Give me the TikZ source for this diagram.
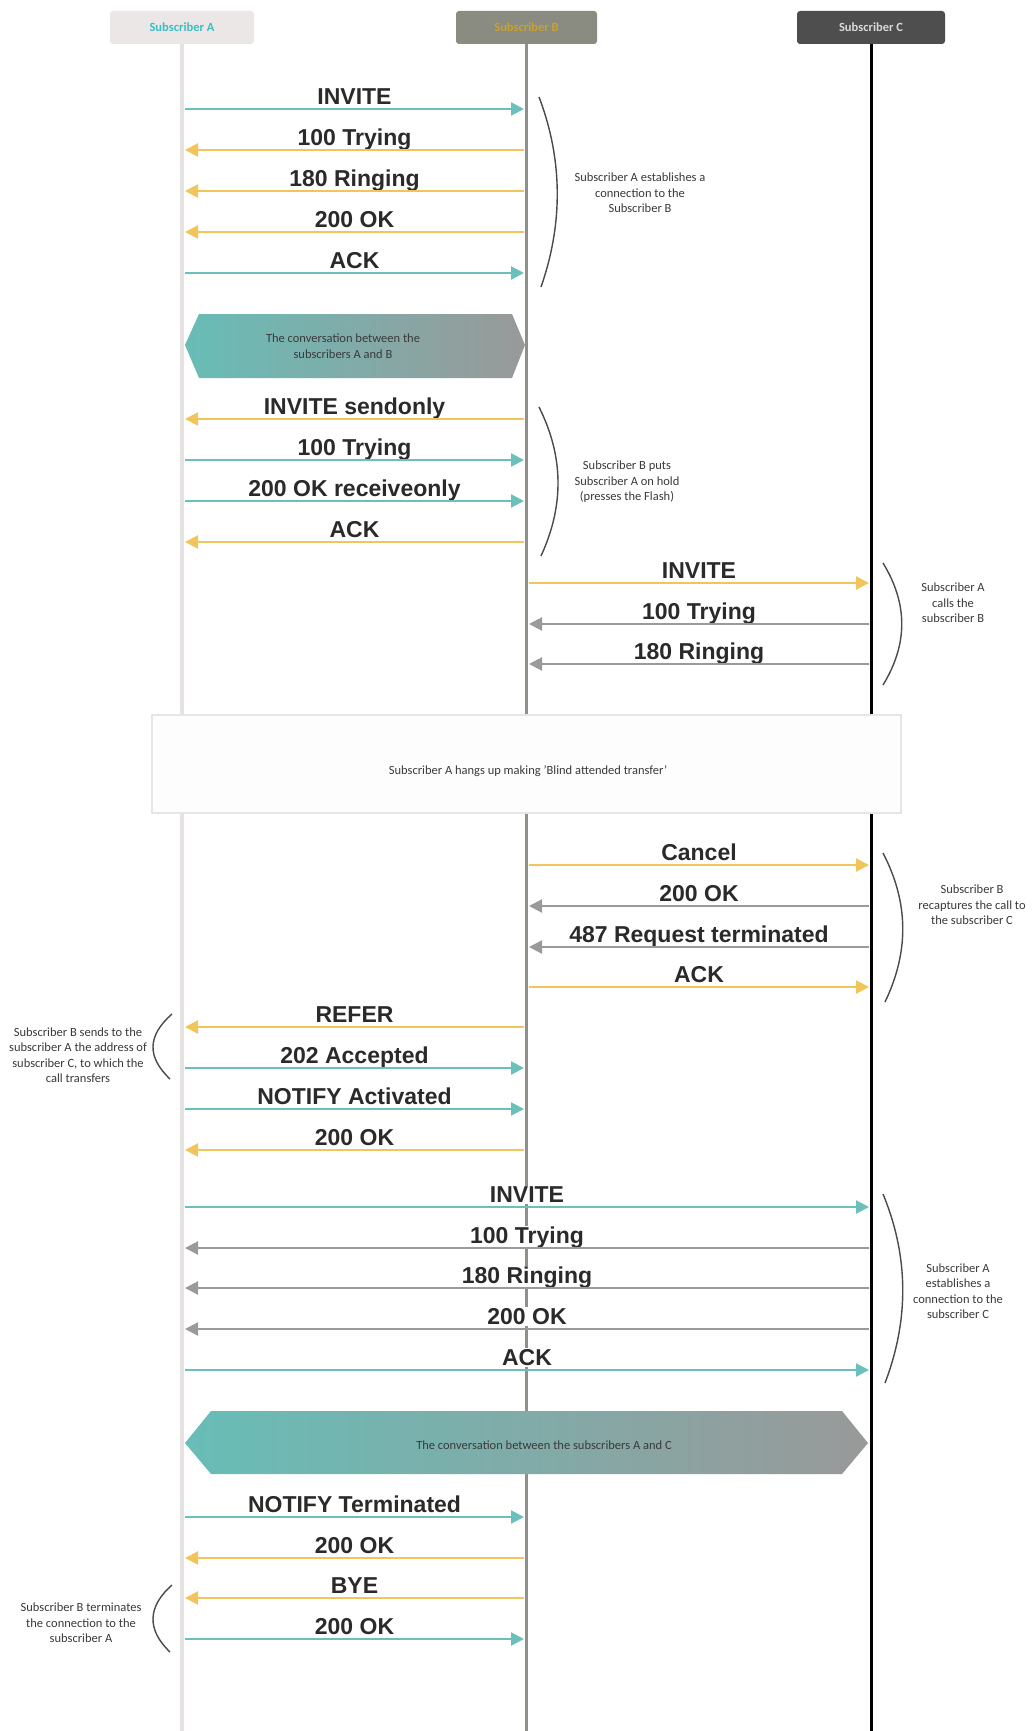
\documentclass[tikz,border=0pt]{standalone}
\usepackage{xcolor}
\usepackage{fontspec}
\setmainfont{Carlito}
\newfontfamily\msgfont{Liberation Sans}
\usepackage{tikz}
\usetikzlibrary{arrows.meta}
\definecolor{MsgTeal}   {HTML}{6CC0BB}
\definecolor{MsgYellow} {HTML}{F2C55C}
\definecolor{MsgGray}   {HTML}{9A9A9A}
\definecolor{LabelText} {HTML}{2A2A2A}
\definecolor{NoteText}  {HTML}{3A3A3A}
\definecolor{BraceGray} {HTML}{4A4A4A}
\definecolor{HdrAFill}  {HTML}{EBE7E7}
\definecolor{HdrAText}  {HTML}{3BBEC0}
\definecolor{HdrBFill}  {HTML}{8A8C81}
\definecolor{HdrBText}  {HTML}{C8A12E}
\definecolor{HdrCFill}  {HTML}{4E4E4E}
\definecolor{HdrCText}  {HTML}{D9D9D9}
\definecolor{LifeA}     {HTML}{E6E2E2}
\definecolor{LifeB}     {HTML}{8F908A}
\definecolor{TalkTeal}  {HTML}{68BDB7}
\definecolor{TalkGray}  {HTML}{999999}
\definecolor{BoxLine}   {HTML}{E6E6E6}
\definecolor{BoxFill}   {HTML}{FDFDFD}
\tikzset{
  header/.style={rounded corners=3pt,minimum height=33,inner sep=0pt,
    font=\bfseries\fontsize{12.5}{15}\selectfont},
  lifeline/.style={line width=3.5pt},
  msglabel/.style={midway,anchor=base,yshift=4.5pt,fill=white,inner sep=1pt,
    text=LabelText,font=\msgfont\bfseries\fontsize{23}{27}\selectfont},
  msgarrow/.style={line width=2.2pt,-{Triangle[length=13pt,width=13pt]}},
  note/.style={align=center,text=NoteText,inner sep=0pt,
    font=\fontsize{12.5}{15.5}\selectfont},
  talk/.style={left color=TalkTeal,right color=TalkGray},
  brace/.style={draw=BraceGray,line width=1.4pt},
}
\def\xA{185}
\def\xBl{524}
\def\xBr{529}
\def\xC{869}

\begin{document}
\begin{tikzpicture}[x=1pt,y=-1pt]
    \useasboundingbox[fill=white] (0,0) rectangle (1033,1731);

    \node[header,fill=HdrAFill,text=HdrAText,minimum width=144] (subA) at (182,27.5) {Subscriber A};
    \node[header,fill=HdrBFill,text=HdrBText,minimum width=141] (subB) at (526.5,27.5) {Subscriber B};
    \node[header,fill=HdrCFill,text=HdrCText,minimum width=148] (subC) at (871,27.5) {Subscriber C};
    \coordinate (endA) at (182,1731);
    \coordinate (endB) at (526.5,1731);
    \coordinate (endC) at (871,1731);
    \draw[lifeline,LifeA,line width=4pt] (subA.south) -- (endA);
    \draw[lifeline,LifeB] (subB.south) -- (endB);
    \draw[lifeline,black,line width=3pt] (subC.south) -- (endC);

    \shade[talk] (185,345) -- (199,314) -- (512,314) -- (525,345) -- (512,378) -- (199,378) -- cycle;
    \node[note] (talkAB) at (343,346) {The conversation between the\\subscribers A and B};
    \shade[talk] (185,1443) -- (211,1411) -- (842,1411) -- (868,1443) -- (842,1474) -- (211,1474) -- cycle;
    \node[note] (talkAC) at (544,1445) {The conversation between the subscribers A and C};

    \node[draw=BoxLine,fill=BoxFill,line width=2pt,minimum width=749,minimum height=98] (hangup) at (526.5,764) {};
    \node[note] (hanguptext) at (528,771) {Subscriber A hangs up making 'Blind attended transfer'};

    \foreach \y/\s/\e/\c/\t [count=\i] in {
        109/\xA/\xBl/MsgTeal/INVITE,
        150/\xBl/\xA/MsgYellow/100 Trying,
        191/\xBl/\xA/MsgYellow/180 Ringing,
        232/\xBl/\xA/MsgYellow/200 OK,
        273/\xA/\xBl/MsgTeal/ACK,
        419/\xBl/\xA/MsgYellow/INVITE sendonly,
        460/\xA/\xBl/MsgTeal/100 Trying,
        501/\xA/\xBl/MsgTeal/200 OK receiveonly,
        542/\xBl/\xA/MsgYellow/ACK,
        583/\xBr/\xC/MsgYellow/INVITE,
        624/\xC/\xBr/MsgGray/100 Trying,
        664/\xC/\xBr/MsgGray/180 Ringing,
        865/\xBr/\xC/MsgYellow/Cancel,
        906/\xC/\xBr/MsgGray/200 OK,
        947/\xC/\xBr/MsgGray/487 Request terminated,
        987/\xBr/\xC/MsgYellow/ACK,
        1027/\xBl/\xA/MsgYellow/REFER,
        1068/\xA/\xBl/MsgTeal/202 Accepted,
        1109/\xA/\xBl/MsgTeal/NOTIFY Activated,
        1150/\xBl/\xA/MsgYellow/200 OK,
        1207/\xA/\xC/MsgTeal/INVITE,
        1248/\xC/\xA/MsgGray/100 Trying,
        1288/\xC/\xA/MsgGray/180 Ringing,
        1329/\xC/\xA/MsgGray/200 OK,
        1370/\xA/\xC/MsgTeal/ACK,
        1517/\xA/\xBl/MsgTeal/NOTIFY Terminated,
        1558/\xBl/\xA/MsgYellow/200 OK,
        1598/\xBl/\xA/MsgYellow/BYE,
        1639/\xA/\xBl/MsgTeal/200 OK}{
      \coordinate (m\i-s) at (\s,\y);
      \coordinate (m\i-e) at (\e,\y);
      \path (m\i-s) -- (m\i-e) node[msglabel] (l\i) {\t};
      \draw[msgarrow,color=\c] (m\i-s) -- (m\i-e);
    }

    \draw[brace] (539,97) .. controls (563,160) and (563,224) .. (541,287);
    \node[note] (noteAB) at (640,193) {Subscriber A establishes a\\connection to the\\Subscriber B};
    \draw[brace] (539,407) .. controls (564,457) and (564,506) .. (541,556);
    \node[note] (hold) at (627,482) {Subscriber B puts\\Subscriber A on hold\\(presses the Flash)};
    \draw[brace] (883,563) .. controls (908,604) and (908,644) .. (883,685);
    \node[note] (callsB) at (953,603) {Subscriber A\\calls the\\subscriber B};
    \draw[brace] (883,853) .. controls (909,903) and (909,952) .. (885,1002);
    \node[note] (recap) at (972,905) {Subscriber B\\recaptures the call to\\the subscriber C};
    \draw[brace] (172,1014) .. controls (147,1036) and (147,1057) .. (170,1079);
    \node[note] (refer) at (78,1055) {Subscriber B sends to the\\subscriber A the address of\\subscriber C, to which the\\call transfers};
    \draw[brace] (883,1194) .. controls (909,1257) and (909,1320) .. (885,1383);
    \node[note] (noteAC) at (958,1291) {Subscriber A\\establishes a\\connection to the\\subscriber C};
    \draw[brace] (172,1585) .. controls (147,1607) and (147,1630) .. (170,1652);
    \node[note] (bye) at (81,1623) {Subscriber B terminates\\the connection to the\\subscriber A};
  \end{tikzpicture}
\end{document}
